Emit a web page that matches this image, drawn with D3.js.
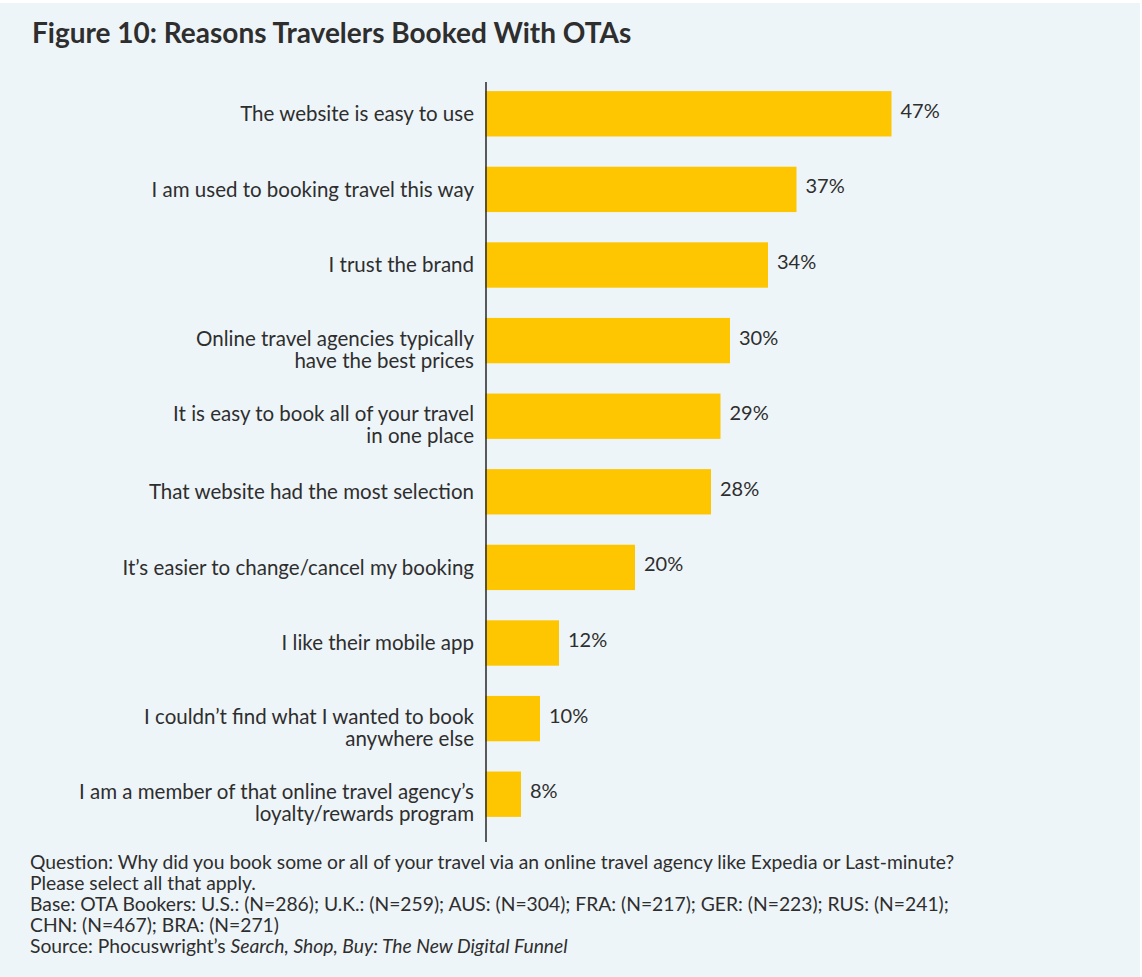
<!DOCTYPE html>
<html>
<head>
<meta charset="utf-8">
<script src="https://cdn.jsdelivr.net/npm/d3@7"></script>
<style>
  html, body { margin: 0; padding: 0; background: #ffffff; }
  svg { display: block; }
  text { font-family: Lato, "Noto Sans", sans-serif; fill: #2e2e2e; }
</style>
</head>
<body>
<svg id="chart" width="1142" height="977"></svg>
<script>
const title = "Figure 10: Reasons Travelers Booked With OTAs";

const categories = [
  "The website is easy to use",
  "I am used to booking travel this way",
  "I trust the brand",
  "Online travel agencies typically\nhave the best prices",
  "It is easy to book all of your travel\nin one place",
  "That website had the most selection",
  "It\u2019s easier to change/cancel my booking",
  "I like their mobile app",
  "I couldn\u2019t find what I wanted to book\nanywhere else",
  "I am a member of that online travel agency\u2019s\nloyalty/rewards program"
];

const values = [47, 37, 34, 30, 29, 28, 20, 12, 10, 8];

const footnotes = [
  [{t: "Question: Why did you book some or all of your travel via an online travel agency like Expedia or Last-minute?"}],
  [{t: "Please select all that apply."}],
  [{t: "Base: OTA Bookers: U.S.: (N=286); U.K.: (N=259); AUS: (N=304); FRA: (N=217); GER: (N=223); RUS: (N=241);"}],
  [{t: "CHN: (N=467); BRA: (N=271)"}],
  [{t: "Source: Phocuswright\u2019s "}, {t: "Search, Shop, Buy: The New Digital Funnel", i: true}]
];

const svg = d3.select("#chart");

// background
svg.append("rect")
  .attr("x", 0).attr("y", 3)
  .attr("width", 1140).attr("height", 974)
  .attr("fill", "#eef5f9");

// title
svg.append("text")
  .attr("x", 32).attr("y", 43)
  .attr("font-size", 28)
  .attr("font-weight", 700)
  .attr("fill", "#262626")
  .text(title);

const axisX = 486;
const x = d3.scaleLinear().domain([0, 50]).range([445, 920]);
const y = d3.scaleBand()
  .domain(categories)
  .range([76, 832])
  .paddingInner(0.4)
  .paddingOuter(0.2);

// bars
svg.append("g").selectAll("rect")
  .data(values)
  .join("rect")
  .attr("x", axisX - 1)
  .attr("y", (d, i) => y(categories[i]))
  .attr("width", d => x(d) - (axisX - 1))
  .attr("height", y.bandwidth())
  .attr("fill", "#fec600");

// value labels
svg.append("g").selectAll("text")
  .data(values)
  .join("text")
  .attr("x", d => x(d) + 9)
  .attr("y", (d, i) => y(categories[i]) + y.bandwidth() / 2 - 3)
  .attr("dy", "0.35em")
  .attr("font-size", 20)
  .text(d => d + "%");

// y axis (category labels)
const yAxis = d3.axisLeft(y).tickSize(0).tickPadding(12);
const gAxis = svg.append("g")
  .attr("transform", `translate(${axisX},0)`)
  .call(yAxis);
gAxis.select(".domain").remove();
gAxis.selectAll(".tick text")
  .attr("font-size", 20.5)
  .attr("font-family", "Lato, 'Noto Sans', sans-serif")
  .attr("fill", "#2e2e2e")
  .each(function(d) {
    const el = d3.select(this);
    const lines = d.split("\n");
    el.text(null).attr("dy", null);
    if (lines.length === 1) {
      el.append("tspan").attr("x", -12).attr("dy", "0.35em").text(lines[0]);
    } else {
      lines.forEach((ln, k) => {
        el.append("tspan")
          .attr("x", -12)
          .attr("dy", k === 0 ? "0.25em" : 22)
          .text(ln);
      });
    }
  });

// axis line
svg.append("line")
  .attr("x1", axisX).attr("x2", axisX)
  .attr("y1", y.range()[0] + 6).attr("y2", y.range()[1] + 10)
  .attr("stroke", "#333")
  .attr("stroke-width", 1.6);

// footnotes
const foot = svg.append("g");
footnotes.forEach((parts, k) => {
  const t = foot.append("text")
    .attr("x", 30)
    .attr("y", 869 + k * 21)
    .attr("font-size", 19.3)
    .attr("fill", "#2a2a2a");
  parts.forEach(p => {
    t.append("tspan")
      .attr("font-style", p.i ? "italic" : null)
      .text(p.t);
  });
});
</script>
</body>
</html>
